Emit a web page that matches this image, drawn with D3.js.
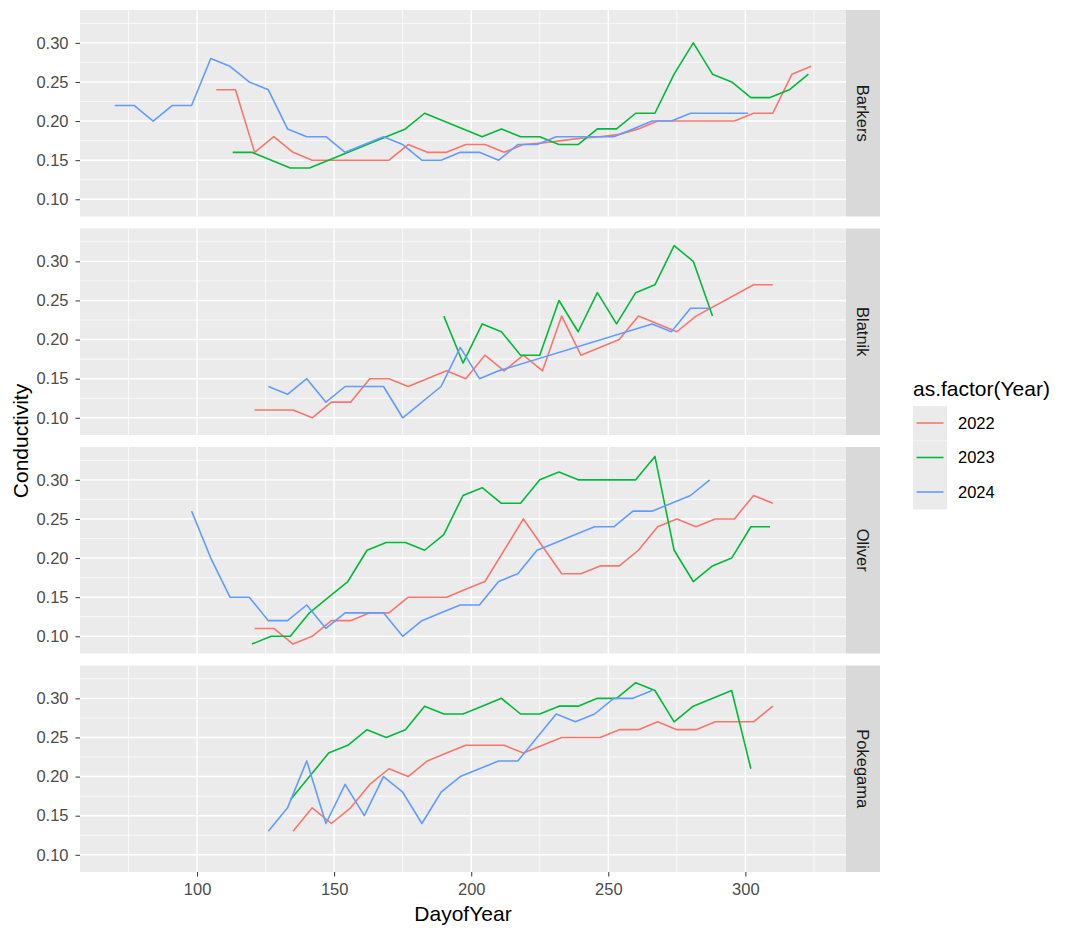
<!DOCTYPE html>
<html>
<head>
<meta charset="utf-8">
<script src="https://cdn.jsdelivr.net/npm/d3@7"></script>
<style>
  body { margin: 0; background: #fff; }
  text { font-family: "Liberation Sans", Arial, Helvetica, sans-serif; }
</style>
</head>
<body>
<script>
// data: [DayofYear, Conductivity]
const sites = ['Barkers', 'Blatnik', 'Oliver', 'Pokegama'];
const years = ['2022', '2023', '2024'];

const barkers2022 = [[107,.24],[114,.24],[121,.16],[128,.18],[135,.16],[142,.15],[149,.15],[156,.15],[163,.15],[170,.15],[177,.17],[184,.16],[191,.16],[198,.17],[205,.17],[212,.16],[219,.17],[226,.172],[233,.175],[240,.178],[247,.18],[254,.183],[261,.19],[268,.20],[275,.20],[282,.20],[289,.20],[296,.20],[303,.21],[310,.21],[317,.26],[324,.27]];
const barkers2023 = [[113,.16],[120,.16],[134,.14],[141,.14],[169,.18],[176,.19],[183,.21],[204,.18],[211,.19],[218,.18],[225,.18],[232,.17],[239,.17],[246,.19],[253,.19],[260,.21],[267,.21],[274,.26],[281,.30],[288,.26],[295,.25],[302,.23],[309,.23],[316,.24],[323,.26]];
const barkers2024 = [[70,.22],[77,.22],[84,.20],[91,.22],[98,.22],[105,.28],[112,.27],[119,.25],[126,.24],[133,.19],[140,.18],[147,.18],[154,.16],[161,.17],[168,.18],[175,.17],[182,.15],[189,.15],[196,.16],[203,.16],[210,.15],[217,.17],[224,.17],[231,.18],[238,.18],[245,.18],[252,.18],[259,.19],[266,.20],[273,.20],[280,.21],[287,.21],[294,.21],[301,.21]];

const blatnik2022 = [[121,.11],[128,.11],[135,.11],[142,.10],[149,.12],[156,.12],[163,.15],[170,.15],[177,.14],[191,.16],[198,.15],[205,.18],[212,.16],[219,.18],[226,.16],[233,.23],[240,.18],[254,.20],[261,.23],[275,.21],[282,.23],[303,.27],[310,.27]];
const blatnik2023 = [[190,.23],[197,.17],[204,.22],[211,.21],[218,.18],[225,.18],[232,.25],[239,.21],[246,.26],[253,.22],[260,.26],[267,.27],[274,.32],[281,.30],[288,.23]];
const blatnik2024 = [[126,.14],[133,.13],[140,.15],[147,.12],[154,.14],[161,.14],[168,.14],[175,.10],[189,.14],[196,.19],[203,.15],[210,.16],[266,.22],[273,.21],[280,.24],[287,.24]];

const oliver2022 = [[121,.11],[128,.11],[135,.09],[142,.10],[149,.12],[156,.12],[163,.13],[170,.13],[177,.15],[184,.15],[191,.15],[198,.16],[205,.17],[219,.25],[233,.18],[240,.18],[247,.19],[254,.19],[261,.21],[268,.24],[275,.25],[282,.24],[289,.25],[296,.25],[303,.28],[310,.27]];
const oliver2023 = [[120,.09],[127,.10],[134,.10],[141,.13],[148,.15],[155,.17],[162,.21],[169,.22],[176,.22],[183,.21],[190,.23],[197,.28],[204,.29],[211,.27],[218,.27],[225,.30],[232,.31],[239,.30],[246,.30],[253,.30],[260,.30],[267,.33],[274,.21],[281,.17],[288,.19],[295,.20],[302,.24],[309,.24]];
const oliver2024 = [[98,.26],[105,.20],[112,.15],[119,.15],[126,.12],[133,.12],[140,.14],[147,.11],[154,.13],[161,.13],[168,.13],[175,.10],[182,.12],[189,.13],[196,.14],[203,.14],[210,.17],[217,.18],[224,.21],[231,.22],[238,.23],[245,.24],[252,.24],[259,.26],[266,.26],[280,.28],[287,.30]];

const pokegama2022 = [[135,.13],[142,.16],[149,.14],[156,.16],[163,.19],[170,.21],[177,.20],[184,.22],[191,.23],[198,.24],[205,.24],[212,.24],[219,.23],[226,.24],[233,.25],[240,.25],[247,.25],[254,.26],[261,.26],[268,.27],[275,.26],[282,.26],[289,.27],[296,.27],[303,.27],[310,.29]];
const pokegama2023 = [[134,.17],[141,.20],[148,.23],[155,.24],[162,.26],[169,.25],[176,.26],[183,.29],[190,.28],[197,.28],[204,.29],[211,.30],[218,.28],[225,.28],[232,.29],[239,.29],[246,.30],[253,.30],[260,.32],[267,.31],[274,.27],[281,.29],[295,.31],[302,.21]];
const pokegama2024 = [[126,.13],[133,.16],[140,.22],[147,.14],[154,.19],[161,.15],[168,.20],[175,.18],[182,.14],[189,.18],[196,.20],[203,.21],[210,.22],[217,.22],[224,.25],[231,.28],[238,.27],[245,.28],[252,.30],[259,.30],[266,.31]];

const xTicks = [100, 150, 200, 250, 300];
const yTicks = [0.10, 0.15, 0.20, 0.25, 0.30];

const seriesBySite = {
  Barkers: [barkers2022, barkers2023, barkers2024],
  Blatnik: [blatnik2022, blatnik2023, blatnik2024],
  Oliver: [oliver2022, oliver2023, oliver2024],
  Pokegama: [pokegama2022, pokegama2023, pokegama2024]
};

document.addEventListener('DOMContentLoaded', () => {
  const W = 1080, H = 936;
  const left = 80, right = 846, top = 10, bottom = 872;
  const gap = 12, stripW = 34;
  const panelH = (bottom - top - gap * 3) / 4;
  const smallFont = '16.5px', titleFont = '21px';

  const allPts = sites.flatMap(s => seriesBySite[s].flat());
  const xExt = d3.extent(allPts, d => d[0]);
  const yExt = d3.extent(allPts, d => d[1]);
  const xPad = (xExt[1] - xExt[0]) * 0.05;
  const yPad = (yExt[1] - yExt[0]) * 0.05;

  const x = d3.scaleLinear().domain([xExt[0] - xPad, xExt[1] + xPad]).range([left, right]);
  const color = d3.scaleOrdinal().domain(years).range(['#F8766D', '#00BA38', '#619CFF']);

  const svg = d3.select('body').append('svg')
    .attr('width', W).attr('height', H);

  const xMinor = d3.range(75, 340, 50);
  const yMinor = [0.125, 0.175, 0.225, 0.275, 0.325];

  sites.forEach((site, i) => {
    const py = top + i * (panelH + gap);
    const y = d3.scaleLinear().domain([yExt[0] - yPad, yExt[1] + yPad]).range([py + panelH, py]);
    const g = svg.append('g');

    g.append('rect')
      .attr('x', left).attr('y', py)
      .attr('width', right - left).attr('height', panelH)
      .attr('fill', '#EBEBEB');

    // minor grid
    g.selectAll('.xminor').data(xMinor).enter().append('line')
      .attr('x1', d => x(d)).attr('x2', d => x(d))
      .attr('y1', py).attr('y2', py + panelH)
      .attr('stroke', '#fff').attr('stroke-width', 0.7);
    g.selectAll('.yminor').data(yMinor.filter(v => y(v) >= py && y(v) <= py + panelH)).enter().append('line')
      .attr('x1', left).attr('x2', right)
      .attr('y1', d => y(d)).attr('y2', d => y(d))
      .attr('stroke', '#fff').attr('stroke-width', 0.7);
    // major grid
    g.selectAll('.xmajor').data(xTicks).enter().append('line')
      .attr('x1', d => x(d)).attr('x2', d => x(d))
      .attr('y1', py).attr('y2', py + panelH)
      .attr('stroke', '#fff').attr('stroke-width', 1.4);
    g.selectAll('.ymajor').data(yTicks).enter().append('line')
      .attr('x1', left).attr('x2', right)
      .attr('y1', d => y(d)).attr('y2', d => y(d))
      .attr('stroke', '#fff').attr('stroke-width', 1.4);

    // y axis
    const ya = g.append('g')
      .attr('transform', `translate(${left},0)`)
      .call(d3.axisLeft(y).tickValues(yTicks).tickFormat(d3.format('.2f')).tickSize(4.5).tickPadding(7));
    ya.select('.domain').remove();
    ya.selectAll('line').attr('stroke', '#333333').attr('stroke-width', 1);
    ya.selectAll('text').attr('fill', '#4D4D4D').style('font-size', smallFont);

    // lines
    const line = d3.line().x(d => x(d[0])).y(d => y(d[1]));
    seriesBySite[site].forEach((s, k) => {
      g.append('path')
        .datum(s)
        .attr('d', line)
        .attr('fill', 'none')
        .attr('stroke', color(years[k]))
        .attr('stroke-width', 1.6)
        .attr('stroke-linejoin', 'round');
    });

    // strip
    g.append('rect')
      .attr('x', right).attr('y', py)
      .attr('width', stripW).attr('height', panelH)
      .attr('fill', '#D9D9D9');
    g.append('text')
      .attr('transform', `translate(${right + stripW / 2},${py + panelH / 2}) rotate(90)`)
      .attr('text-anchor', 'middle')
      .attr('dy', '0.35em')
      .attr('fill', '#1A1A1A')
      .style('font-size', smallFont)
      .text(site);

    if (i === sites.length - 1) {
      const xa = g.append('g')
        .attr('transform', `translate(0,${py + panelH})`)
        .call(d3.axisBottom(x).tickValues(xTicks).tickSize(4.5).tickPadding(7));
      xa.select('.domain').remove();
      xa.selectAll('line').attr('stroke', '#333333').attr('stroke-width', 1);
      xa.selectAll('text').attr('fill', '#4D4D4D').style('font-size', smallFont);
    }
  });

  // axis titles
  svg.append('text')
    .attr('x', (left + right) / 2).attr('y', 921)
    .attr('text-anchor', 'middle')
    .style('font-size', titleFont)
    .text('DayofYear');
  svg.append('text')
    .attr('transform', `translate(28,${(top + bottom) / 2}) rotate(-90)`)
    .attr('text-anchor', 'middle')
    .style('font-size', titleFont)
    .text('Conductivity');

  // legend
  const lg = svg.append('g').attr('transform', 'translate(913,0)');
  lg.append('text')
    .attr('x', 0).attr('y', 396)
    .style('font-size', titleFont)
    .text('as.factor(Year)');
  years.forEach((yr, k) => {
    const ky = 406 + k * 34.5;
    lg.append('rect')
      .attr('x', 0).attr('y', ky)
      .attr('width', 34).attr('height', 34.5)
      .attr('fill', '#EBEBEB');
    lg.append('line')
      .attr('x1', 3.5).attr('x2', 30.5)
      .attr('y1', ky + 17).attr('y2', ky + 17)
      .attr('stroke', color(yr)).attr('stroke-width', 1.6);
    lg.append('text')
      .attr('x', 45).attr('y', ky + 17)
      .attr('dy', '0.35em')
      .style('font-size', smallFont)
      .text(yr);
  });
}, false);
</script>
</body>
</html>
